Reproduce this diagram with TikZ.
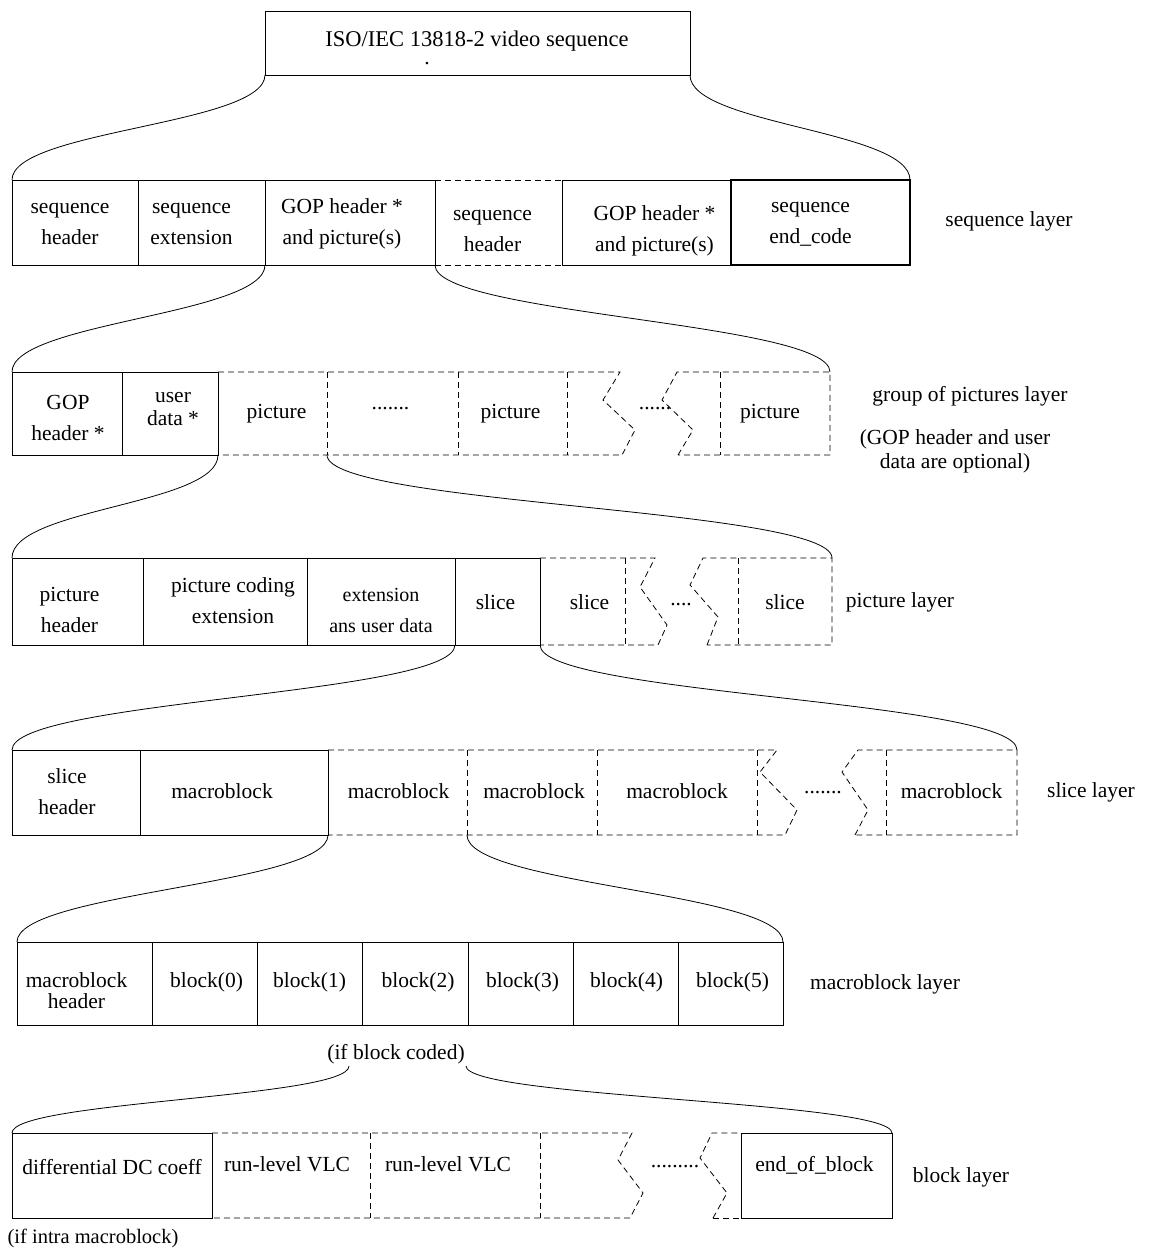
\documentclass[tikz,border=0pt]{standalone}
\usepackage{fontspec}
\setmainfont{Liberation Serif}
\newcommand\myCellFont{\fontsize{21.5}{31}\selectfont}
\newcommand\myTitleFont{\fontsize{22.5}{31}\selectfont}
\newcommand\mySmallFont{\fontsize{20}{31}\selectfont}
% one cell of a layer: [box opts]{name}{x1}{x2}{y1}{y2}{text offset x,y}{text opts}{text}
\newcommand\cellat[9][]{%
  \node[cell,#1,minimum width={#4-#3},minimum height={#6-#5}] (#2)
    at ({(#3+#4)/2},{(#5+#6)/2}) {};
  \node[txt,#8] (#2t) at ([shift={(#7)}]#2.center)
    {\begin{tabular}{@{}c@{}}#9\end{tabular}};}
\begin{document}
\begin{tikzpicture}[x=1pt,y=-1pt,
  cell/.style={draw,line width=0.8pt,rectangle,inner sep=0pt,outer sep=0pt},
  txt/.style={inner sep=0pt,font=\myCellFont},
  open/.style={draw=none},
  dsh/.style={line width=0.8pt,dash pattern=on 6pt off 4pt},
  arm/.style={line width=0.8pt},
  lbl/.style={font=\myCellFont,align=center,inner sep=0pt}]
\fill[white] (0,0) rectangle (1149,1249);
\useasboundingbox (0,0) rectangle (1149,1249);

% ---- top: the whole stream
\node[cell,minimum width=425,minimum height=64] (title) at (477.5,43) {};
\node[lbl,font=\myTitleFont,anchor=base] (titlet) at (477,47) {ISO/IEC 13818-2 video sequence};
\node[lbl,anchor=base] (tdot) at (427,65) {.};

% ---- sequence layer
\cellat{s1}{12}{138}{180}{265}{-5,0}{}{sequence\\header}
\cellat{s2}{138}{265}{180}{265}{-10,0}{}{sequence\\extension}
\cellat{s3}{265}{435}{180}{265}{-8,0}{}{GOP header *\\and picture(s)}
\cellat[open]{s4}{435}{562}{180}{265}{-6,7}{}{sequence\\header}
\cellat{s5}{562}{731}{180}{265}{8,7}{}{GOP header *\\and picture(s)}
\cellat[line width=1.2pt]{s6}{731}{910}{180}{265}{-10,-1}{}{sequence\\end\_code}
\draw[dsh] (s3.north east) -- (s5.north west);
\draw[dsh] (s3.south east) -- (s5.south west);
\node[lbl] (seqlab) at (1009,221) {sequence layer};

% ---- group of pictures layer
\coordinate (gza) at (620,372); \coordinate (gzb) at (603,400);
\coordinate (gzc) at (635,430); \coordinate (gzd) at (622,455);
\coordinate (gya) at (677,372); \coordinate (gyb) at (662,400);
\coordinate (gyc) at (693,430); \coordinate (gyd) at (678,455);
\cellat{g1}{12}{122}{372}{455}{1,5}{}{GOP\\header *}
\cellat{g2}{122}{218}{372}{455}{3,-6}{}{user\\[-8pt]data *}
\cellat[open]{g3}{218}{327}{372}{455}{4,-1}{}{picture}
\cellat[open]{g4}{327}{458}{372}{455}{-2,-10}{}{.......}
\cellat[open]{g5}{458}{567}{372}{455}{-2,-1}{}{picture}
\cellat[open]{g6}{720}{830}{372}{455}{-5,-1}{}{picture}
\node[lbl,anchor=base] (gdots) at (655,409) {......};
\draw[dsh] (g2.north east) -- (gza) -- (gzb) -- (gzc) -- (gzd) -- (g2.south east);
\draw[dsh] (g3.north east) -- (g3.south east);
\draw[dsh] (g4.north east) -- (g4.south east);
\draw[dsh] (g5.north east) -- (g5.south east);
\draw[dsh] (gyd) -- (gyc) -- (gyb) -- (gya) -- (g6.north east) -- (g6.south east) -- cycle;
\draw[dsh] (g6.north west) -- (g6.south west);
\node[lbl] (goplab) at (970,396) {group of pictures layer};
\node[lbl,font=\fontsize{21.5}{24}\selectfont] (gopnote) at (955,451) {(GOP header and user\\data are optional)};

% ---- picture layer
\coordinate (pza) at (655,558); \coordinate (pzb) at (640,587);
\coordinate (pzc) at (667,625); \coordinate (pzd) at (658,645);
\coordinate (pya) at (703,558); \coordinate (pyb) at (690,585);
\coordinate (pyc) at (718,617); \coordinate (pyd) at (707,645);
\cellat{p1}{12}{143}{558}{645}{-8,9}{}{picture\\header}
\cellat{p2}{143}{307}{558}{645}{8,0}{}{picture coding\\extension}
\cellat{p3}{307}{455}{558}{645}{0,9}{font=\mySmallFont}{extension\\ans user data}
\cellat{p4}{455}{540}{558}{645}{-2,2}{}{slice}
\cellat[open]{p5}{540}{625}{558}{645}{7,2}{}{slice}
\cellat[open]{p6}{738}{832}{558}{645}{0,2}{}{slice}
\node[lbl,anchor=base] (pdots) at (681,605) {....};
\draw[dsh] (p4.north east) -- (pza) -- (pzb) -- (pzc) -- (pzd) -- (p4.south east);
\draw[dsh] (p5.north east) -- (p5.south east);
\draw[dsh] (pyd) -- (pyc) -- (pyb) -- (pya) -- (p6.north east) -- (p6.south east) -- cycle;
\draw[dsh] (p6.north west) -- (p6.south west);
\node[lbl] (piclab) at (900,602) {picture layer};

% ---- slice layer
\coordinate (lza) at (777,750); \coordinate (lzb) at (760,772);
\coordinate (lzc) at (797,810); \coordinate (lzd) at (785,835);
\coordinate (lya) at (858,750); \coordinate (lyb) at (842,772);
\coordinate (lyc) at (868,810); \coordinate (lyd) at (855,835);
\cellat{sl1}{12}{140}{750}{835}{-9,0}{}{slice\\header}
\cellat{sl2}{140}{328}{750}{835}{-12,0}{}{macroblock}
\cellat[open]{sl3}{328}{467}{750}{835}{1,0}{}{macroblock}
\cellat[open]{sl4}{467}{597}{750}{835}{2,0}{}{macroblock}
\cellat[open]{sl5}{597}{757}{750}{835}{0,0}{}{macroblock}
\cellat[open]{sl6}{886}{1017}{750}{835}{0,0}{}{macroblock}
\node[lbl,anchor=base] (ldots) at (823,793) {.......};
\draw[dsh] (sl2.north east) -- (lza) -- (lzb) -- (lzc) -- (lzd) -- (sl2.south east);
\draw[dsh] (sl3.north east) -- (sl3.south east);
\draw[dsh] (sl4.north east) -- (sl4.south east);
\draw[dsh] (sl5.north east) -- (sl5.south east);
\draw[dsh] (lyd) -- (lyc) -- (lyb) -- (lya) -- (sl6.north east) -- (sl6.south east) -- cycle;
\draw[dsh] (sl6.north west) -- (sl6.south west);
\node[lbl] (slclab) at (1091,792) {slice layer};

% ---- macroblock layer
\cellat{m0}{17}{152}{942}{1025}{-8,8}{}{macroblock\\[-10pt]header}
\cellat{m1}{152}{257}{942}{1025}{2,-2}{}{block(0)}
\cellat{m2}{257}{362}{942}{1025}{0,-2}{}{block(1)}
\cellat{m3}{362}{468}{942}{1025}{3,-2}{}{block(2)}
\cellat{m4}{468}{573}{942}{1025}{2,-2}{}{block(3)}
\cellat{m5}{573}{678}{942}{1025}{1,-2}{}{block(4)}
\cellat{m6}{678}{783}{942}{1025}{2,-2}{}{block(5)}
\node[lbl] (mblab) at (885,984) {macroblock layer};
\node[lbl] (ifcoded) at (396,1054) {(if block coded)};

% ---- block layer
\coordinate (bza) at (632,1133); \coordinate (bzb) at (618,1160);
\coordinate (bzc) at (643,1193); \coordinate (bzd) at (630,1218);
\coordinate (bya) at (712,1133); \coordinate (byb) at (700,1158);
\coordinate (byc) at (727,1193); \coordinate (byd) at (713,1218);
\cellat[open]{b2}{212}{370}{1133}{1218}{-4,-10}{}{run-level VLC}
\cellat[open]{b3}{370}{540}{1133}{1218}{-7,-10}{}{run-level VLC}
\node[lbl,anchor=base] (bdots) at (675,1167) {.........};
\draw[dsh] (b2.north west) -- (bza) -- (bzb) -- (bzc) -- (bzd) -- (b2.south west);
\draw[dsh] (b2.north east) -- (b2.south east);
\draw[dsh] (b3.north east) -- (b3.south east);
\cellat{b1}{12}{212}{1133}{1218}{0,-7}{}{differential DC coeff}
\cellat{b5}{741}{892}{1133}{1218}{-2,-10}{}{end\_of\_block}
\draw[dsh] (byd) -- (byc) -- (byb) -- (bya) -- (b5.north west);
\draw[dsh] (byd) -- (b5.south west);
\node[lbl] (blklab) at (961,1177) {block layer};
\node[lbl,font=\fontsize{20.5}{24}\selectfont] (ifintra) at (93,1238) {(if intra macroblock)};

% ---- expansion arms between the layers
\draw[arm] (title.south west) .. controls +(0,50) and +(0,-50) .. (s1.north west);
\draw[arm] (title.south east) .. controls +(0,50) and +(0,-50) .. (s6.north east);
\draw[arm] (s3.south west) .. controls +(0,50) and +(0,-50) .. (g1.north west);
\draw[arm] (s3.south east) .. controls +(0,50) and +(0,-50) .. (g6.north east);
\draw[arm] (g3.south west) .. controls +(0,50) and +(0,-50) .. (p1.north west);
\draw[arm] (g3.south east) .. controls +(0,50) and +(0,-50) .. (p6.north east);
\draw[arm] (p4.south west) .. controls +(0,50) and +(0,-50) .. (sl1.north west);
\draw[arm] (p4.south east) .. controls +(0,50) and +(0,-50) .. (sl6.north east);
\draw[arm] (sl2.south east) .. controls +(0,50) and +(0,-50) .. (m0.north west);
\draw[arm] (sl3.south east) .. controls +(0,50) and +(0,-50) .. (m6.north east);
\coordinate (cL) at (349,1066);
\coordinate (cR) at (466,1066);
\draw[arm] (cL) .. controls +(0,32) and +(0,-32) .. (b1.north west);
\draw[arm] (cR) .. controls +(0,32) and +(0,-32) .. (b5.north east);
\end{tikzpicture}
\end{document}
